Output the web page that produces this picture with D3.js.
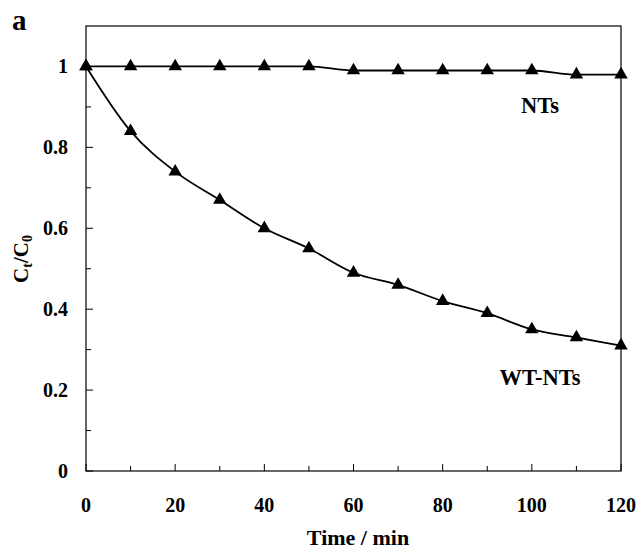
<!DOCTYPE html>
<html>
<head>
<meta charset="utf-8">
<script src="https://cdn.jsdelivr.net/npm/d3@7"></script>
<style>
  body { margin: 0; background: #fff; }
  text { font-family: "Liberation Serif", "Times New Roman", serif; font-weight: bold; fill: #000; }
</style>
</head>
<body>
<div id="chart"></div>
<script>
var time = [0, 10, 20, 30, 40, 50, 60, 70, 80, 90, 100, 110, 120];
var nts = [1, 1, 1, 1, 1, 1, 0.99, 0.99, 0.99, 0.99, 0.99, 0.98, 0.98];
var wtNts = [1, 0.84, 0.74, 0.67, 0.60, 0.55, 0.49, 0.46, 0.42, 0.39, 0.35, 0.33, 0.31];
var xTickLabels = [0, 20, 40, 60, 80, 100, 120];
var yTickLabels = [0, 0.2, 0.4, 0.6, 0.8, 1];

var W = 639, H = 550;
// plot box (window.top is reserved, so no plain "top")
var pLeft = 86, pRight = 621, pTop = 26, pBottom = 471;

var svg = d3.select("#chart").append("svg")
    .attr("width", W)
    .attr("height", H);

var x = d3.scaleLinear().domain([0, 120]).range([pLeft, pRight]);
var y = d3.scaleLinear().domain([0, 1.1]).range([pBottom, pTop]);

// frame
svg.append("rect")
    .attr("x", pLeft).attr("y", pTop)
    .attr("width", pRight - pLeft).attr("height", pBottom - pTop)
    .attr("fill", "none").attr("stroke", "#000").attr("stroke-width", 1.2);

// y ticks (inward), minor every 0.1
var yTicks = d3.range(0, 11).map(function(i){ return i / 10; });
svg.append("g").selectAll("line")
    .data(yTicks)
    .join("line")
    .attr("x1", pLeft)
    .attr("x2", function(d, i){ return pLeft + (i % 2 == 0 ? 7 : 5); })
    .attr("y1", function(d){ return y(d); })
    .attr("y2", function(d){ return y(d); })
    .attr("stroke", "#000").attr("stroke-width", 1);

svg.append("g").selectAll("text")
    .data(yTickLabels)
    .join("text")
    .attr("x", 68)
    .attr("y", function(d){ return y(d); })
    .attr("dy", "0.35em")
    .attr("text-anchor", "end")
    .attr("font-size", 20)
    .text(function(d){ return d; });

// x ticks (inward), minor every 10
var xTicks = d3.range(0, 130, 10);
svg.append("g").selectAll("line")
    .data(xTicks)
    .join("line")
    .attr("x1", function(d){ return x(d); })
    .attr("x2", function(d){ return x(d); })
    .attr("y1", pBottom)
    .attr("y2", function(d){ return pBottom - (d % 20 == 0 ? 7 : 5); })
    .attr("stroke", "#000").attr("stroke-width", 1);

svg.append("g").selectAll("text")
    .data(xTickLabels)
    .join("text")
    .attr("x", function(d){ return x(d); })
    .attr("y", 512)
    .attr("text-anchor", "middle")
    .attr("font-size", 20)
    .text(function(d){ return d; });

// axis titles
svg.append("text")
    .attr("x", 358).attr("y", 545)
    .attr("text-anchor", "middle")
    .attr("font-size", 22)
    .text("Time / min");

var yt = svg.append("text")
    .attr("transform", "translate(28,259) rotate(-90)")
    .attr("text-anchor", "middle")
    .attr("font-size", 21);
yt.append("tspan").text("C");
yt.append("tspan").attr("font-size", 14).attr("dy", 4).text("t");
yt.append("tspan").attr("dy", -4).text("/C");
yt.append("tspan").attr("font-size", 14).attr("dy", 4).text("0");

svg.append("text")
    .attr("x", 12).attr("y", 30)
    .attr("font-size", 29)
    .text("a");

// series
var series = [
    {name: "NTs", values: nts, lx: 540, ly: 113},
    {name: "WT-NTs", values: wtNts, lx: 540, ly: 385}
];

var line = d3.line()
    .x(function(d){ return x(d[0]); })
    .y(function(d){ return y(d[1]); })
    .curve(d3.curveMonotoneX);

var tri = d3.symbol().type(d3.symbolTriangle).size(78);

series.forEach(function(s){
    var pts = time.map(function(t, i){ return [t, s.values[i]]; });
    svg.append("path")
        .datum(pts)
        .attr("d", line)
        .attr("fill", "none")
        .attr("stroke", "#000")
        .attr("stroke-width", 1.8);
    svg.append("g").selectAll("path")
        .data(pts)
        .join("path")
        .attr("d", tri)
        .attr("transform", function(d){ return "translate(" + x(d[0]) + "," + y(d[1]) + ")"; })
        .attr("fill", "#000");
    svg.append("text")
        .attr("x", s.lx).attr("y", s.ly)
        .attr("text-anchor", "middle")
        .attr("font-size", 22.5)
        .text(s.name);
});
</script>
</body>
</html>
